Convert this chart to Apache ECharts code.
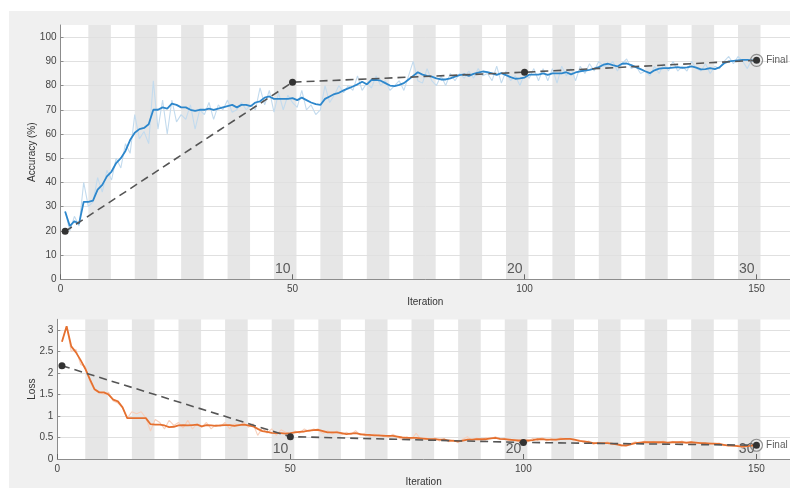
<!DOCTYPE html>
<html>
<head>
<meta charset="utf-8">
<script src="https://cdn.jsdelivr.net/npm/echarts@6/dist/echarts.min.js"></script>
<style>
html,body{margin:0;padding:0;background:#fff;}
#c{width:790px;height:488px;}
</style>
</head>
<body>
<div id="c"></div>
<script>
// ---------- data ----------
const accSmooth = [28,22,24,23,32,32,32.5,37,39,42.5,44.5,48,50,53,57.5,60.5,62,62.5,64,70,
70,71,70.5,72.5,72,71,71,70,69.5,70,70,70.5,70,70.5,71,71.5,72,71,72,72,
71.5,73,73.5,75,75.5,74.5,74.5,74.5,74.5,74.8,74,75,74,73,72.3,72,74.5,75.5,76.5,77,
78,78.8,79.6,80.5,81.6,80.5,82.3,82.3,82,81,80,79.8,80.3,81,82.5,84,85.5,84.5,84,83.7,
83,82.5,82.5,83,83.7,84.3,84.6,84,84.8,85.3,85.8,85.5,85,84.4,85.1,84.3,83.5,82.8,83,83.3,
84.5,84.5,84.5,85,84.4,85,85,85,85.5,84.6,85.4,85.9,86.2,86.5,87,87.6,88.6,89,88.4,87.9,
89,89.1,88.4,87.6,86.8,85.9,85.1,86.3,87,87.2,87.2,87.4,87.6,87.3,87.5,87.9,87.4,86.7,86.8,87.2,
86.8,87.5,89.2,90,90.2,90.4,90.6,90.6,90.4,90.3];
const accRaw = [28,20,26,22,40,30,32,42,36,45,41,50,46,56,52,68,58,61,56,82,
62,74,60,74,65,68,66,72,62,70,68,73,66,72,70,74,69,70,73,70,
72,70,79,72,78,69,77,70,76,73,71,78,70,72,68,70,80,73,76,80,
77,80,78,84,78,81,79,84,80,82,78,80,82,78,84,90,82,81,87,82,
80,84,80,85,82,85,83,86,83,87,84,85,82,88,81,86,82,84,80,85,
83,87,82,87,82,87,81,88,84,87,82,88,85,89,86,90,88,88,90,86,
89,91,87,88,85,86,84,88,85,89,86,90,86,88,86,90,87,86,89,85,
88,87,90,92,89,92,90,87,91,90];
const lossSmooth = [2.73,3.09,2.62,2.48,2.3,2.1,1.85,1.62,1.55,1.55,1.5,1.38,1.34,1.2,0.95,0.95,0.95,0.95,0.95,0.81,
0.8,0.8,0.78,0.74,0.75,0.78,0.79,0.78,0.79,0.8,0.76,0.79,0.78,0.77,0.78,0.79,0.79,0.77,0.79,0.8,
0.78,0.76,0.7,0.65,0.63,0.61,0.6,0.6,0.59,0.6,0.62,0.63,0.64,0.66,0.67,0.68,0.65,0.62,0.62,0.62,
0.6,0.58,0.59,0.6,0.58,0.56,0.56,0.55,0.55,0.54,0.54,0.54,0.52,0.5,0.49,0.49,0.49,0.48,0.47,0.46,
0.46,0.45,0.45,0.43,0.42,0.41,0.43,0.45,0.45,0.46,0.46,0.46,0.48,0.49,0.47,0.46,0.45,0.44,0.43,0.43,
0.43,0.44,0.46,0.46,0.45,0.45,0.45,0.46,0.47,0.47,0.45,0.42,0.41,0.39,0.37,0.37,0.37,0.37,0.36,0.34,
0.32,0.31,0.34,0.37,0.38,0.39,0.39,0.39,0.39,0.39,0.38,0.39,0.39,0.39,0.38,0.39,0.38,0.37,0.37,0.36,
0.36,0.35,0.33,0.31,0.31,0.3,0.29,0.3,0.31,0.32];
const lossRaw = [2.73,3.09,2.5,2.55,2.2,2.15,1.8,1.6,1.55,1.5,1.55,1.35,1.3,1.2,0.95,1.1,1.05,1.1,0.95,0.65,
0.92,0.85,0.7,0.9,0.78,0.85,0.72,0.9,0.7,0.82,0.74,0.85,0.7,0.8,0.76,0.85,0.7,0.82,0.78,0.85,
0.74,0.82,0.55,0.72,0.6,0.7,0.55,0.68,0.62,0.56,0.65,0.6,0.7,0.64,0.7,0.66,0.6,0.66,0.58,0.65,
0.56,0.62,0.57,0.66,0.55,0.6,0.52,0.58,0.53,0.57,0.5,0.58,0.5,0.45,0.52,0.46,0.6,0.45,0.5,0.43,
0.49,0.42,0.48,0.4,0.44,0.38,0.46,0.52,0.43,0.49,0.44,0.5,0.47,0.52,0.45,0.48,0.42,0.46,0.4,0.45,
0.4,0.48,0.43,0.5,0.42,0.47,0.43,0.5,0.45,0.48,0.42,0.44,0.38,0.42,0.34,0.39,0.35,0.4,0.33,0.36,
0.3,0.34,0.36,0.4,0.36,0.42,0.37,0.41,0.36,0.42,0.36,0.41,0.37,0.42,0.36,0.4,0.36,0.39,0.35,0.38,
0.34,0.37,0.31,0.33,0.29,0.32,0.27,0.31,0.3,0.33];
const valIter = [1, 50, 100, 150];
const valAcc = [19.8, 81.4, 85.5, 90.4];
const valLoss = [2.17, 0.52, 0.385, 0.32];
const epochTicks = [10, 20, 30];
const itersPerEpoch = 5;
// shaded epochs (every other epoch), start iteration of each band
const stripeStarts = [6,16,26,36,46,56,66,76,86,96,106,116,126,136,146];
const stripeWidth = 4.85;

// ---------- build ----------
const pts = arr => arr.map((v, i) => [i + 1, v]);
const stripes = stripeStarts.map(s => [{xAxis: s}, {xAxis: s + stripeWidth}]);
const XMAX = 157.2;
const FONT = 'Liberation Sans, Arial, sans-serif';
const axisGray = '#8c8c8c';

function xMain(gi) {
  return {
    type: 'value', gridIndex: gi, min: 0, max: XMAX, interval: 50, z: 2,
    axisLine: {show: true, lineStyle: {color: axisGray, width: 1}},
    axisTick: {show: false},
    axisLabel: {color: '#444', fontSize: 10, fontFamily: FONT, margin: 5, showMaxLabel: false},
    splitLine: {show: false},
    name: 'Iteration', nameLocation: 'middle', nameGap: 18, nameMoveOverlap: false,
    nameTextStyle: {color: '#333', fontSize: 10, fontFamily: FONT}
  };
}
function xEpoch(gi) {
  return {
    type: 'value', gridIndex: gi, min: 0, max: XMAX / itersPerEpoch, interval: 10, position: 'bottom', z: 2,
    axisLine: {show: false},
    axisTick: {show: true, inside: true, length: 5, lineStyle: {color: '#666'}},
    axisLabel: {inside: true, margin: 3, color: '#5a5a5a', fontSize: 14, fontFamily: FONT, align: 'right',
      padding: [0, 2, 0, 0], showMaxLabel: false,
      formatter: v => epochTicks.indexOf(v) >= 0 ? String(v) : ''},
    splitLine: {show: false}
  };
}
function yAx(gi, max, interval, name, gap) {
  return {
    type: 'value', gridIndex: gi, min: 0, max: max, interval: interval, z: 2,
    axisLine: {show: true, lineStyle: {color: axisGray}},
    axisTick: {show: true, inside: true, length: 3, lineStyle: {color: axisGray}},
    axisLabel: {color: '#444', fontSize: 10, fontFamily: FONT, margin: 4, showMaxLabel: false},
    splitLine: {show: true, showMaxLine: false, lineStyle: {color: '#e0e0e0', width: 1}},
    name: name, nameLocation: 'middle', nameGap: gap, nameRotate: 90, nameMoveOverlap: false,
    nameTextStyle: {color: '#333', fontSize: 10, fontFamily: FONT}
  };
}

const chart = echarts.init(document.getElementById('c'), null, {renderer: 'canvas'});
const bg = '#f0f0f0';
chart.setOption({
  backgroundColor: '#ffffff',
  animation: false,
  graphic: [
    {type: 'rect', silent: true, z: -10, shape: {x: 9, y: 11, width: 781, height: 14}, style: {fill: bg}},
    {type: 'rect', silent: true, z: -10, shape: {x: 9, y: 25, width: 51.5, height: 255}, style: {fill: bg}},
    {type: 'rect', silent: true, z: -10, shape: {x: 9, y: 279.5, width: 781, height: 40}, style: {fill: bg}},
    {type: 'rect', silent: true, z: -10, shape: {x: 9, y: 319, width: 48.3, height: 141}, style: {fill: bg}},
    {type: 'rect', silent: true, z: -10, shape: {x: 9, y: 459.5, width: 781, height: 29}, style: {fill: bg}}
  ],
  grid: [
    {left: 60.5, top: 25, right: 0, height: 254.3},
    {left: 57.3, top: 319.3, right: 0, height: 140}
  ],
  xAxis: [xMain(0), xEpoch(0), xMain(1), xEpoch(1)],
  yAxis: [yAx(0, 105, 10, 'Accuracy (%)', 23), yAx(1, 3.25, 0.5, 'Loss', 20)],
  series: [
    // epoch stripes
    {type: 'line', xAxisIndex: 0, yAxisIndex: 0, data: [], z: 1, silent: true,
     markArea: {silent: true, itemStyle: {color: '#e6e6e6'}, data: stripes}},
    {type: 'line', xAxisIndex: 2, yAxisIndex: 1, data: [], z: 1, silent: true,
     markArea: {silent: true, itemStyle: {color: '#e6e6e6'}, data: stripes}},
    // accuracy
    {type: 'line', xAxisIndex: 0, yAxisIndex: 0, data: pts(accRaw), symbol: 'none', z: 3,
     lineStyle: {color: '#c3dbee', width: 1.1}},
    {type: 'line', xAxisIndex: 0, yAxisIndex: 0, data: pts(accSmooth), symbol: 'none', z: 4,
     lineStyle: {color: '#2d87cc', width: 1.8}},
    {type: 'line', xAxisIndex: 0, yAxisIndex: 0, data: valIter.map((v, i) => [v, valAcc[i]]), z: 5,
     symbol: 'circle', symbolSize: 7, itemStyle: {color: '#333'},
     lineStyle: {color: '#555', width: 1.6, type: [8, 5]}},
    {type: 'scatter', xAxisIndex: 0, yAxisIndex: 0, z: 6,
     data: [[valIter[valIter.length - 1], valAcc[valAcc.length - 1]]],
     symbol: 'circle', symbolSize: 12, itemStyle: {color: 'rgba(0,0,0,0)', borderColor: '#777', borderWidth: 1.2},
     label: {show: true, position: 'right', distance: 3, formatter: 'Final', color: '#333', fontSize: 10, fontFamily: FONT}},
    // loss
    {type: 'line', xAxisIndex: 2, yAxisIndex: 1, data: pts(lossRaw), symbol: 'none', z: 3,
     lineStyle: {color: '#f7cfbb', width: 1.1}},
    {type: 'line', xAxisIndex: 2, yAxisIndex: 1, data: pts(lossSmooth), symbol: 'none', z: 4,
     lineStyle: {color: '#e5702f', width: 1.8}},
    {type: 'line', xAxisIndex: 2, yAxisIndex: 1, data: valIter.map((v, i) => [v, valLoss[i]]), z: 5,
     symbol: 'circle', symbolSize: 7, itemStyle: {color: '#333'},
     lineStyle: {color: '#555', width: 1.6, type: [8, 5]}},
    {type: 'scatter', xAxisIndex: 2, yAxisIndex: 1, z: 6,
     data: [[valIter[valIter.length - 1], valLoss[valLoss.length - 1]]],
     symbol: 'circle', symbolSize: 12, itemStyle: {color: 'rgba(0,0,0,0)', borderColor: '#777', borderWidth: 1.2},
     label: {show: true, position: 'right', distance: 3, formatter: 'Final', color: '#333', fontSize: 10, fontFamily: FONT}}
  ]
});
</script>
</body>
</html>
